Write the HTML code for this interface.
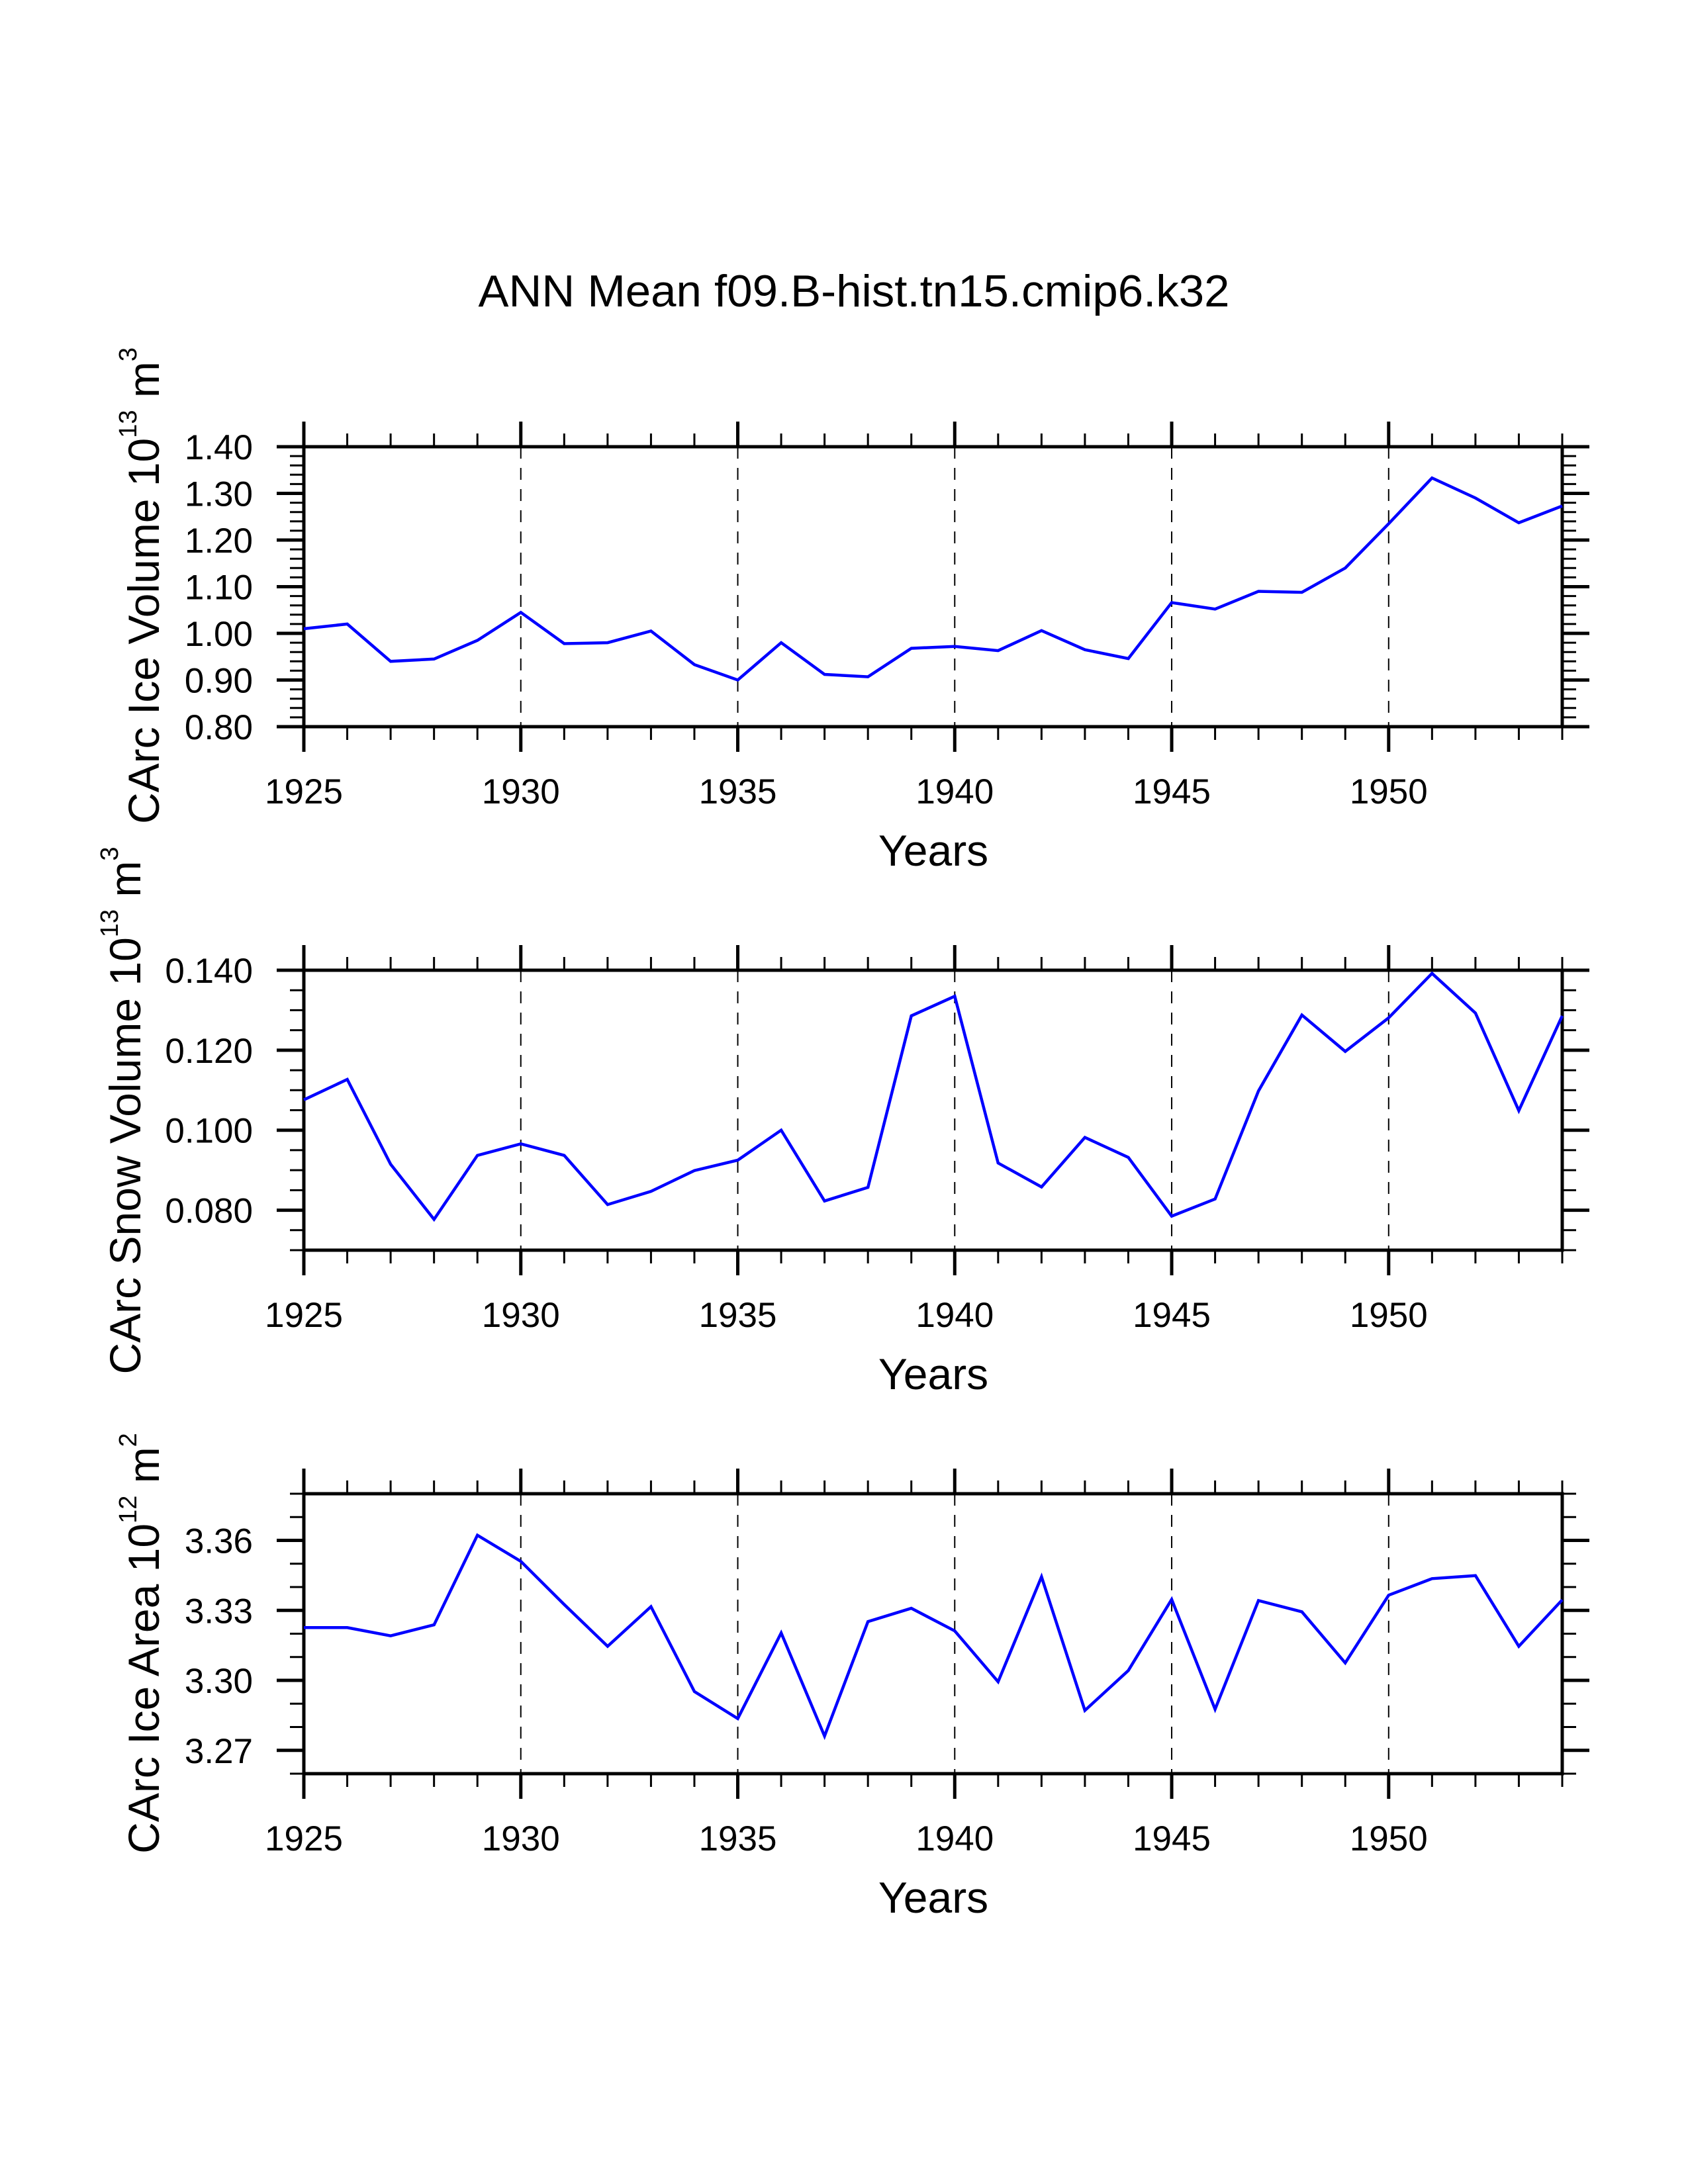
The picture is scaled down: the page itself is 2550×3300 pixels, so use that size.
<!DOCTYPE html>
<html><head><meta charset="utf-8"><style>
html,body{margin:0;padding:0;background:#fff;}
svg{display:block;font-family:"Liberation Sans",sans-serif;}
</style></head><body>
<svg id="chart" width="2550" height="3300" viewBox="0 0 2550 3300" xmlns="http://www.w3.org/2000/svg">
<rect width="2550" height="3300" fill="#fff"/>
<text x="1290" y="463" font-size="68" text-anchor="middle" textLength="1135" lengthAdjust="spacingAndGlyphs">ANN Mean f09.B-hist.tn15.cmip6.k32</text>
</svg>
<script>
const years = [1925,1926,1927,1928,1929,1930,1931,1932,1933,1934,1935,1936,1937,1938,1939,1940,1941,1942,1943,1944,1945,1946,1947,1948,1949,1950,1951,1952,1953,1954];
const iceVolume = [1.010,1.020,0.940,0.945,0.985,1.045,0.978,0.980,1.005,0.933,0.900,0.980,0.912,0.907,0.968,0.972,0.963,1.006,0.965,0.946,1.066,1.052,1.090,1.088,1.140,1.235,1.333,1.290,1.237,1.273];
const snowVolume = [0.1076,0.1127,0.0915,0.0777,0.0937,0.0966,0.0937,0.0814,0.0847,0.0899,0.0925,0.1000,0.0823,0.0857,0.1286,0.1335,0.0918,0.0858,0.0982,0.0932,0.0785,0.0828,0.1098,0.1288,0.1197,0.1281,0.1392,0.1293,0.1049,0.1286];
const iceArea = [3.3226,3.3226,3.3191,3.3238,3.3622,3.3510,3.3325,3.3146,3.3316,3.2952,3.2836,3.3203,3.2761,3.3252,3.3309,3.3212,3.2994,3.3444,3.2871,3.3042,3.3347,3.2876,3.3342,3.3294,3.3075,3.3365,3.3436,3.3449,3.3146,3.3345];
const xTickLabels = ["1925","1930","1935","1940","1945","1950"];
const iceVolTicks = ["0.80","0.90","1.00","1.10","1.20","1.30","1.40"];
const snowVolTicks = ["0.080","0.100","0.120","0.140"];
const iceAreaTicks = ["3.27","3.30","3.33","3.36"];

const NS = "http://www.w3.org/2000/svg";
const svg = document.getElementById("chart");
const X0 = 459, X1 = 2360, YMIN = 1925, YMAX = 1954;
function xs(yr){ return X0 + (yr - YMIN) / (YMAX - YMIN) * (X1 - X0); }
function mk(tag, attrs, parent){
  const e = document.createElementNS(NS, tag);
  for (const k in attrs) e.setAttribute(k, attrs[k]);
  (parent || svg).appendChild(e);
  return e;
}

function panel(cfg){
  const g = mk("g", {});
  
  
  const top = cfg.top, bot = cfg.top + cfg.h;
  const ys = v => bot - (v - cfg.min) / (cfg.max - cfg.min) * cfg.h;
  for (let yr = 1930; yr <= 1950; yr += 5) {
    const l = mk("line", {x1: xs(yr), x2: xs(yr), y1: top, y2: bot, stroke: "#000", "stroke-width": 2, "stroke-dasharray": "18 14"}, g);
    
    
  }
  for (const yr of years) {
    const major = (yr % 5 === 0);
    const len = major ? 38 : 20, w = major ? 5 : 3;
    const t1 = mk("line", {x1: xs(yr), x2: xs(yr), y1: top - len, y2: top, stroke: "#000", "stroke-width": w}, g);
    
    
    const t2 = mk("line", {x1: xs(yr), x2: xs(yr), y1: bot, y2: bot + len, stroke: "#000", "stroke-width": w}, g);
    
    
  }
  xTickLabels.forEach(s => {
    const t = mk("text", {x: xs(+s), y: bot + 116, "font-size": 53, "text-anchor": "middle"}, g);
    
    
    t.textContent = s;
  });
  const nMinor = Math.round((cfg.max - cfg.min) / cfg.minor);
  for (let i = 0; i <= nMinor; i++) {
    const v = cfg.min + i * cfg.minor;
    const y = ys(v);
    for (const side of [-1, 1]) {
      const xa = side < 0 ? X0 : X1;
      const m = mk("line", {x1: xa, x2: xa + side * 21, y1: y, y2: y, stroke: "#000", "stroke-width": 3}, g);
      
      
    }
  }
  cfg.ticks.forEach(s => {
    const y = ys(parseFloat(s));
    for (const side of [-1, 1]) {
      const xa = side < 0 ? X0 : X1;
      const m = mk("line", {x1: xa, x2: xa + side * 41, y1: y, y2: y, stroke: "#000", "stroke-width": 5}, g);
      
      
    }
    const t = mk("text", {x: 382, y: y + 19, "font-size": 53, "text-anchor": "end"}, g);
    
    
    t.textContent = s;
  });
  const r = mk("rect", {x: X0, y: top, width: X1 - X0, height: cfg.h, fill: "none", stroke: "#000", "stroke-width": 5}, g);
  
  
  const pts = cfg.data.map((v, i) => xs(years[i]).toFixed(1) + "," + ys(v).toFixed(1)).join(" ");
  const pl = mk("polyline", {points: pts, fill: "none", stroke: "#0000ff", "stroke-width": 4.5, "stroke-linejoin": "miter"}, g);
  
  
  const xt = mk("text", {x: 1410, y: bot + 210, "font-size": 66, "text-anchor": "middle"}, g);
  
  
  xt.textContent = "Years";
  const yt = mk("text", {x: 0, y: 0, "font-size": 66, "text-anchor": "middle", transform: "translate(" + cfg.labX + "," + cfg.labY + ") rotate(-90)"}, g);
  
  
  const a = mk("tspan", {}, yt); a.textContent = cfg.label + " 10";
  const b = mk("tspan", {dy: -34, "font-size": 38}, yt); b.textContent = cfg.exp;
  const c = mk("tspan", {dy: 34}, yt); c.textContent = " m";
  const d = mk("tspan", {dy: -34, "font-size": 38}, yt); d.textContent = cfg.unitExp;
}

panel({name: "ice-volume-panel", top: 675, h: 423, min: 0.8, max: 1.4, minor: 0.02, ticks: iceVolTicks, data: iceVolume, label: "CArc Ice Volume", exp: "13", unitExp: "3", labX: 240, labY: 885});
panel({name: "snow-volume-panel", top: 1466, h: 423, min: 0.07, max: 0.14, minor: 0.005, ticks: snowVolTicks, data: snowVolume, label: "CArc Snow Volume", exp: "13", unitExp: "3", labX: 212, labY: 1678});
panel({name: "ice-area-panel", top: 2257, h: 423, min: 3.26, max: 3.38, minor: 0.01, ticks: iceAreaTicks, data: iceArea, label: "CArc Ice Area", exp: "12", unitExp: "2", labX: 240, labY: 2483});
</script>
</body></html>
